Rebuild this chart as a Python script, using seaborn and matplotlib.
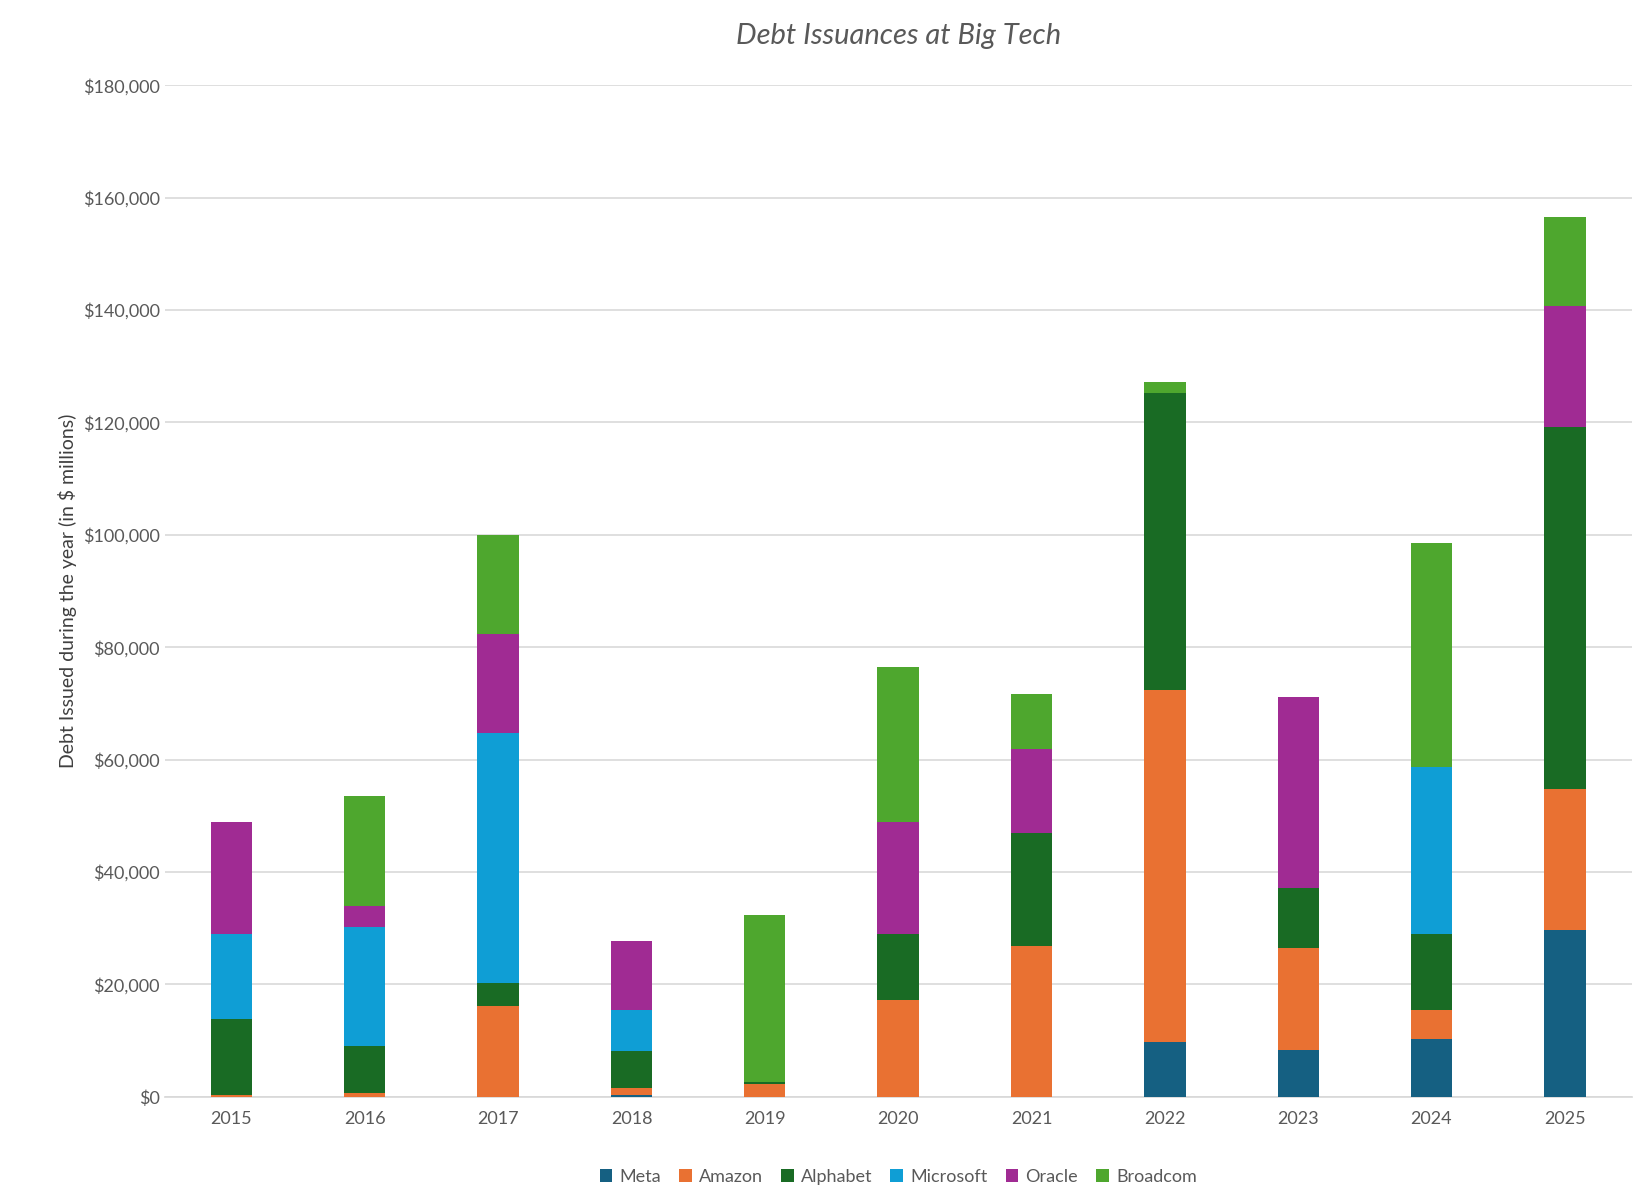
import matplotlib.pyplot as plt
import matplotlib.ticker as mticker
import seaborn as sns
import pandas as pd
import numpy as np

years = [str(y) for y in range(2015, 2026)]
meta      = [0, 0, 0, 400, 0, 0, 0, 9800, 8300, 10300, 29700]
amazon    = [300, 600, 16200, 1100, 2300, 17300, 26900, 62600, 18200, 5100, 25000]
alphabet  = [13600, 8400, 4100, 6600, 300, 11700, 20100, 52900, 10700, 13600, 64500]
microsoft = [15000, 21300, 44400, 7300, 0, 0, 0, 0, 0, 29700, 0]
oracle    = [20000, 3700, 17700, 12400, 0, 19900, 14900, 0, 33900, 0, 21500]
broadcom  = [0, 19600, 17500, 0, 29700, 27600, 9800, 1800, 0, 39900, 15800]

companies = ["Meta", "Amazon", "Alphabet", "Microsoft", "Oracle", "Broadcom"]
series = [meta, amazon, alphabet, microsoft, oracle, broadcom]
colors = ["#156082", "#E97132", "#196B24", "#0F9ED5", "#A02B93", "#4EA72E"]

sns.set_theme(style="whitegrid")
plt.rcParams['font.family'] = ['Lato', 'DejaVu Sans']

df = pd.DataFrame(dict(zip(companies, series)), index=years)
cum = df.cumsum(axis=1)

fig, ax = plt.subplots(figsize=(16.48, 12), dpi=100)
# draw cumulative totals from the top layer down so each layer shows as a stack
for name, color in reversed(list(zip(companies, colors))):
    sns.barplot(x=years, y=cum[name].values, color=color, width=0.31,
                saturation=1, ax=ax, label=name, zorder=3, edgecolor='none', linewidth=0)

ax.set_ylim(0, 180000)
ax.yaxis.set_major_locator(mticker.MultipleLocator(20000))
ax.yaxis.set_major_formatter(mticker.FuncFormatter(lambda v, p: f"${v:,.0f}"))
ax.grid(axis='y', color='#d9d9d9', linewidth=1.2)
ax.grid(axis='x', visible=False)
ax.set_facecolor('white')
for s in ['top', 'right', 'left']:
    ax.spines[s].set_visible(False)
ax.spines['bottom'].set_color('#d9d9d9')
ax.tick_params(axis='both', labelsize=13, colors='#595959', length=0)
ax.tick_params(axis='x', pad=10)
ax.set_ylabel("Debt Issued during the year (in $ millions)", fontsize=14, color='#404040')
ax.set_xlabel("")
ax.set_title("Debt Issuances at Big Tech", fontsize=21, style='italic', color='#595959', pad=30)

handles, labels = ax.get_legend_handles_labels()
order = [labels.index(c) for c in companies]
ax.legend([handles[i] for i in order], companies, loc='upper center',
          bbox_to_anchor=(0.5, -0.055), ncol=6, frameon=False, fontsize=13,
          handlelength=0.7, handleheight=0.7, columnspacing=1.0, handletextpad=0.4,
          labelcolor='#595959')

plt.subplots_adjust(left=0.10, right=0.99, top=0.929, bottom=0.086)
plt.savefig("out.png", dpi=100)
